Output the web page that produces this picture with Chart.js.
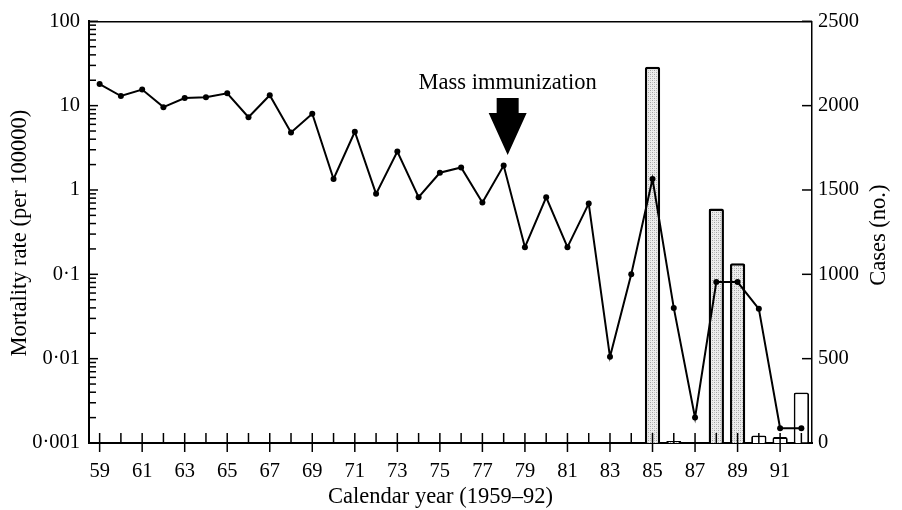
<!DOCTYPE html>
<html>
<head>
<meta charset="utf-8">
<script src="https://cdn.jsdelivr.net/npm/chart.js@4/dist/chart.umd.min.js"></script>
<style>
html,body{margin:0;padding:0;background:#fff;}
#wrap{width:902px;height:510px;position:relative;}
</style>
</head>
<body>
<div id="wrap"><canvas id="c"></canvas></div>
<script>
// ---- data ----
const years = ['59','60','61','62','63','64','65','66','67','68','69','70','71','72','73','74','75','76','77','78','79','80','81','82','83','84','85','86','87','88','89','90','91','92'];
const mortality = [18, 13, 15.5, 9.6, 12.3, 12.6, 14, 7.3, 13.3, 4.8, 8, 1.35, 4.9, 0.9, 2.85, 0.82, 1.6, 1.85, 0.71, 1.95, 0.21, 0.82, 0.21, 0.69, 0.0105, 0.1, 1.35, 0.04, 0.002, 0.081, 0.081, 0.039, 0.0015, 0.0015];
const cases = [null,null,null,null,null,null,null,null,null,null,null,null,null,null,null,null,null,null,null,null,null,null,null,null,null,null, 2230, 12, null, 1390, 1065, 45, 35, 300];
const leftTickValues = [0.001, 0.01, 0.1, 1, 10, 100];
const leftTickLabels = ['0·001', '0·01', '0·1', '1', '10', '100'];
const rightTickValues = [0, 500, 1000, 1500, 2000, 2500];
const rightTickLabels = ['0', '500', '1000', '1500', '2000', '2500'];
const openBarYears = ['90', '91', '92'];
const annotationYear = '78';
const annotationText = 'Mass immunization';
const xTitle = 'Calendar year (1959–92)';
const yLeftTitle = 'Mortality rate (per 100000)';
const yRightTitle = 'Cases (no.)';

const FONT = '"Liberation Serif", "Times New Roman", serif';

function makePattern() {
  const p = document.createElement('canvas');
  p.width = 4; p.height = 4;
  const g = p.getContext('2d');
  g.fillStyle = '#ececec';
  g.fillRect(0, 0, 4, 4);
  g.fillStyle = '#a0a0a0';
  g.fillRect(0, 0, 1, 1);
  g.fillRect(2, 2, 1, 1);
  g.fillStyle = '#c4c4c4';
  g.fillRect(2, 0, 1, 1);
  g.fillRect(0, 2, 1, 1);
  return g.createPattern(p, 'repeat');
}
const stipple = makePattern();

const decor = {
  id: 'decor',
  afterDraw(chart) {
    const ctx = chart.ctx;
    const ca = chart.chartArea;
    const xs = chart.scales.x, yl = chart.scales.y, yr = chart.scales.y2;
    ctx.save();
    ctx.strokeStyle = '#000';
    ctx.fillStyle = '#000';
    // top border
    ctx.lineWidth = 1.5;
    ctx.beginPath();
    ctx.moveTo(ca.left, ca.top + 0.5);
    ctx.lineTo(ca.right, ca.top + 0.5);
    ctx.stroke();
    // x ticks
    ctx.lineWidth = 1.5;
    years.forEach((yv, i) => {
      const px = xs.getPixelForValue(i);
      const odd = parseInt(yv, 10) % 2 === 1;
      ctx.beginPath();
      ctx.moveTo(px, ca.bottom - 10);
      ctx.lineTo(px, odd ? ca.bottom + 9 : ca.bottom);
      ctx.stroke();
    });
    // left log ticks
    for (let d = 0; d < leftTickValues.length; d++) {
      const base = leftTickValues[d];
      for (let m = 1; m <= 9; m++) {
        const v = base * m;
        if (v > leftTickValues[leftTickValues.length - 1]) break;
        const py = yl.getPixelForValue(v);
        ctx.beginPath();
        ctx.moveTo(ca.left, py);
        ctx.lineTo(ca.left + (m === 1 ? 9 : 7), py);
        ctx.stroke();
      }
    }
    // right ticks
    rightTickValues.forEach(v => {
      const py = yr.getPixelForValue(v);
      ctx.beginPath();
      ctx.moveTo(ca.right, py);
      ctx.lineTo(ca.right - 10, py);
      ctx.stroke();
    });
    // annotation arrow
    const ai = years.indexOf(annotationYear);
    const ax = xs.getPixelForValue(ai) + 4;
    ctx.beginPath();
    ctx.moveTo(ax - 11, 98);
    ctx.lineTo(ax + 11, 98);
    ctx.lineTo(ax + 11, 113);
    ctx.lineTo(ax + 19, 113);
    ctx.lineTo(ax, 155);
    ctx.lineTo(ax - 19, 113);
    ctx.lineTo(ax - 11, 113);
    ctx.closePath();
    ctx.fill();
    ctx.font = '22.5px ' + FONT;
    ctx.textAlign = 'center';
    ctx.textBaseline = 'middle';
    ctx.fillText(annotationText, ax, 83);
    // titles
    ctx.fillText(xTitle, (ca.left + ca.right) / 2 - 10, 497);
    ctx.save();
    ctx.translate(20, (ca.top + ca.bottom) / 2 + 1);
    ctx.rotate(-Math.PI / 2);
    ctx.fillText(yLeftTitle, 0, 0);
    ctx.restore();
    ctx.save();
    ctx.translate(879, (ca.top + ca.bottom) / 2 + 3);
    ctx.rotate(-Math.PI / 2);
    ctx.fillText(yRightTitle, 0, 0);
    ctx.restore();
    ctx.restore();
  }
};

new Chart(document.getElementById('c'), {
  type: 'bar',
  data: {
    labels: years,
    datasets: [
      {
        type: 'line',
        label: 'Mortality',
        data: mortality,
        yAxisID: 'y',
        borderColor: '#000',
        backgroundColor: '#000',
        borderWidth: 2,
        pointRadius: 3,
        pointBorderWidth: 0,
        pointBackgroundColor: '#000',
        tension: 0,
        order: 0
      },
      {
        type: 'bar',
        label: 'Cases',
        data: cases,
        yAxisID: 'y2',
        backgroundColor: c => openBarYears.includes(years[c.dataIndex]) ? '#fff' : stipple,
        borderColor: '#000',
        borderWidth: c => openBarYears.includes(years[c.dataIndex]) ? 1.8 : 2.4,
        borderRadius: 2,
        borderSkipped: 'bottom',
        barPercentage: 0.72,
        categoryPercentage: 1,
        order: 1
      }
    ]
  },
  options: {
    responsive: true,
    maintainAspectRatio: false,
    animation: false,
    layout: { padding: { top: 19, left: 0, right: 0, bottom: 0 } },
    plugins: { legend: { display: false }, tooltip: { enabled: false } },
    scales: {
      x: {
        type: 'category',
        offset: true,
        grid: { display: false, drawTicks: false, offset: true },
        border: { display: true, color: '#000', width: 2 },
        ticks: {
          autoSkip: false,
          maxRotation: 0,
          padding: 16,
          color: '#000',
          font: { family: FONT, size: 20.5 },
          callback: function(v, i) { return parseInt(years[i], 10) % 2 === 1 ? years[i] : ''; }
        },
        afterFit: s => { s.height = 67; }
      },
      y: {
        type: 'logarithmic',
        position: 'left',
        min: 0.001,
        max: 100,
        grid: { display: false, drawTicks: false },
        border: { display: true, color: '#000', width: 2 },
        ticks: {
          padding: 9,
          color: '#000',
          font: { family: FONT, size: 20.5 },
          callback: function(v) {
            const k = leftTickValues.findIndex(t => Math.abs(Math.log10(t) - Math.log10(v)) < 1e-6);
            return k >= 0 ? leftTickLabels[k] : '';
          }
        },
        afterBuildTicks: s => { s.ticks = leftTickValues.map(v => ({ value: v })); },
        afterFit: s => { s.width = 89; }
      },
      y2: {
        type: 'linear',
        position: 'right',
        min: 0,
        max: 2500,
        grid: { display: false, drawTicks: false },
        border: { display: true, color: '#000', width: 1.5 },
        ticks: {
          padding: 6,
          color: '#000',
          font: { family: FONT, size: 20.5 },
          callback: function(v) {
            const k = rightTickValues.indexOf(v);
            return k >= 0 ? rightTickLabels[k] : '';
          }
        },
        afterBuildTicks: s => { s.ticks = rightTickValues.map(v => ({ value: v })); },
        afterFit: s => { s.width = 90; }
      }
    }
  },
  plugins: [decor]
});
</script>
</body>
</html>
